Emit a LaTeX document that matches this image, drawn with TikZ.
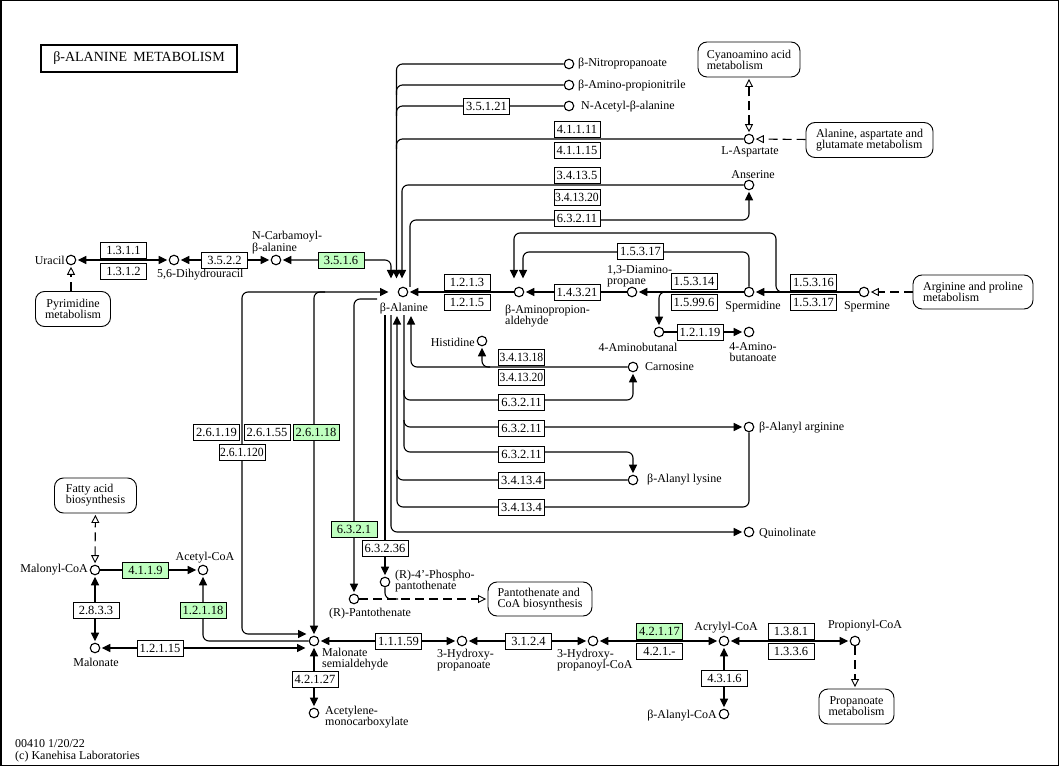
\documentclass[tikz,border=0pt]{standalone}
\usepackage{fontspec}
\setmainfont{Liberation Serif}
\usetikzlibrary{arrows.meta}
\definecolor{kgreen}{HTML}{BFFFBF}
\pgfdeclarelayer{bg}
\pgfsetlayers{bg,main}
\newcommand{\nrw}[1]{\scalebox{0.93}[1]{#1}}
\begin{document}
\begin{tikzpicture}[x=1pt,y=-1pt,
  cp/.style={circle,draw,line width=1.1pt,fill=white,inner sep=0pt,minimum size=9.5pt},
  ez/.style={draw,line width=0.9pt,fill=white,minimum width=46pt,minimum height=16pt,inner sep=0pt,font=\fontsize{12.5}{12.5}\selectfont},
  gz/.style={ez,fill=kgreen},
  lb/.style={inner sep=0pt,font=\fontsize{12}{11}\selectfont},
  mp/.style={draw,line width=0.9pt,rounded corners=9pt,fill=white,inner sep=0pt,align=left,font=\fontsize{12}{11}\selectfont},
  ln/.style={line width=1.1pt,rounded corners=6pt},
  ae/.style={ln,-{Triangle[length=8.5pt,width=8pt]},shorten >=1.5pt},
  ab/.style={ln,{Triangle[length=8.5pt,width=8pt]}-{Triangle[length=8.5pt,width=8pt]},shorten >=1.5pt,shorten <=1.5pt},
  dl/.style={line width=1.1pt,dash pattern=on 9pt off 5pt},
  de/.style={dl,-{Triangle[open,length=8pt,width=8pt,line width=0.9pt]},shorten >=1.5pt},
  db/.style={dl,{Triangle[open,length=8pt,width=8pt,line width=0.9pt]}-{Triangle[open,length=8pt,width=8pt,line width=0.9pt]},shorten >=1.5pt,shorten <=1.5pt},
]
\useasboundingbox (0,0) rectangle (1060,767);
\draw[line width=1.5pt] (0.75,0.75) rectangle (1058.5,765.5);

\node[draw,line width=2pt,minimum width=196pt,minimum height=27pt,inner sep=0pt,font=\fontsize{14}{14}\selectfont] (title) at (139,58.5) {β-ALANINE\hspace{6pt}METABOLISM};
\node[lb,anchor=west,align=left,font=\fontsize{12}{12}\selectfont] (foot) at (15,751) {00410 1/20/22\\(c) Kanehisa Laboratories};

% ---------- compounds ----------
\node[cp] (ura) at (71,260) {};
\node[cp] (dhu) at (174,260) {};
\node[cp] (ncb) at (276,260) {};
\node[cp] (bala) at (403,292) {};
\node[cp] (nitro) at (569,64) {};
\node[cp] (apn) at (569,85) {};
\node[cp] (nacb) at (569,106) {};
\node[cp] (asp) at (749,139) {};
\node[cp] (ans) at (749,185) {};
\node[cp] (bapa) at (519,292) {};
\node[cp] (dap) at (632,292) {};
\node[cp] (spd) at (749,292) {};
\node[cp] (spm) at (864,292) {};
\node[cp] (abal) at (659,332) {};
\node[cp] (abut) at (749,332) {};
\node[cp] (his) at (482,341) {};
\node[cp] (car) at (633,367) {};
\node[cp] (barg) at (749,427) {};
\node[cp] (blys) at (633,480) {};
\node[cp] (quin) at (749,532) {};
\node[cp] (pant) at (354,599) {};
\node[cp] (ppant) at (385,582) {};
\node[cp] (msa) at (314,641) {};
\node[cp] (malonate) at (95,648) {};
\node[cp] (malcoa) at (95,570) {};
\node[cp] (acoa) at (203,570) {};
\node[cp] (hpa) at (462,641) {};
\node[cp] (hpcoa) at (593,641) {};
\node[cp] (acr) at (724,641) {};
\node[cp] (pcoa) at (855,641) {};
\node[cp] (bacoa) at (724,714) {};
\node[cp] (acmc) at (314,713) {};

% ---------- compound labels ----------
\node[lb,anchor=east] (l1) at (65,260) {Uracil};
\node[lb,anchor=west] (l2) at (157,274.5) {5,6-Dihydrouracil};
\node[lb,anchor=west,align=left] (l3) at (252,243) {N-Carbamoyl-\\β-alanine};
\node[lb] (l4) at (404,308.5) {β-Alanine};
\node[lb,anchor=west] (l5) at (578,64) {β-Nitropropanoate};
\node[lb,anchor=west] (l6) at (578,86) {β-Amino-propionitrile};
\node[lb,anchor=west] (l7) at (581,107) {N-Acetyl-β-alanine};
\node[lb] (l8) at (750,152) {L-Aspartate};
\node[lb] (l9) at (753,175) {Anserine};
\node[lb,anchor=west,align=left] (l10) at (505,316) {β-Aminopropion-\\aldehyde};
\node[lb,anchor=west,align=left] (l11) at (607,276) {1,3-Diamino-\\propane};
\node[lb] (l12) at (753,307) {Spermidine};
\node[lb] (l13) at (867,307) {Spermine};
\node[lb] (l14) at (638,347) {4-Aminobutanal};
\node[lb,align=center] (l15) at (753,352) {4-Amino-\\butanoate};
\node[lb,anchor=east] (l16) at (475,342) {Histidine};
\node[lb,anchor=west] (l17) at (645,367) {Carnosine};
\node[lb,anchor=west] (l18) at (759,428) {β-Alanyl arginine};
\node[lb,anchor=west] (l19) at (647,480) {β-Alanyl lysine};
\node[lb,anchor=west] (l20) at (759,533) {Quinolinate};
\node[lb] (l21) at (370,614) {(R)-Pantothenate};
\node[lb,anchor=west,align=left] (l22) at (395,581) {(R)-4'-Phospho-\\pantothenate};
\node[lb,anchor=west,align=left] (l23) at (322,659) {Malonate\\semialdehyde};
\node[lb] (l24) at (96,662) {Malonate};
\node[lb,anchor=east] (l25) at (88,570) {Malonyl-CoA};
\node[lb] (l26) at (205,558) {Acetyl-CoA};
\node[lb,anchor=west,align=left] (l27) at (437,660) {3-Hydroxy-\\propanoate};
\node[lb,anchor=west,align=left] (l28) at (557,660) {3-Hydroxy-\\propanoyl-CoA};
\node[lb] (l29) at (726,628) {Acrylyl-CoA};
\node[lb] (l30) at (865,626) {Propionyl-CoA};
\node[lb,anchor=east] (l31) at (717,716) {β-Alanyl-CoA};
\node[lb,anchor=west,align=left] (l32) at (325,717) {Acetylene-\\monocarboxylate};

% ---------- maps ----------
\node[mp,minimum width=102pt,minimum height=35pt] (cyano) at (749,59.5) {Cyanoamino acid\\metabolism};
\node[mp,minimum width=127pt,minimum height=35pt] (alaasp) at (869.5,140) {Alanine, aspartate and\\glutamate metabolism};
\node[mp,minimum width=120pt,minimum height=34pt] (argpro) at (973,292) {Arginine and proline\\metabolism};
\node[mp,minimum width=75pt,minimum height=35pt,align=center] (pyr) at (73,309) {Pyrimidine\\metabolism};
\node[mp,minimum width=82pt,minimum height=35pt] (fab) at (95.5,495.5) {Fatty acid\\biosynthesis};
\node[mp,minimum width=104pt,minimum height=34pt] (pantoa) at (540,599) {Pantothenate and\\CoA biosynthesis};
\node[mp,minimum width=75pt,minimum height=35pt,align=center] (propm) at (856.5,706.5) {Propanoate\\metabolism};

% ---------- enzymes ----------
\node[ez] (e1) at (123.5,250) {1.3.1.1};
\node[ez] (e2) at (123.5,271) {1.3.1.2};
\node[ez] (e3) at (224.5,260) {3.5.2.2};
\node[gz] (e4) at (341,260) {3.5.1.6};
\node[ez] (e5) at (486.5,106) {3.5.1.21};
\node[ez] (e6) at (577,129) {4.1.1.11};
\node[ez] (e7) at (577,150) {4.1.1.15};
\node[ez] (e8) at (577,175.5) {3.4.13.5};
\node[ez] (e9) at (577,197) {\nrw{3.4.13.20}};
\node[ez] (e10) at (577,218.5) {6.3.2.11};
\node[ez] (e11) at (640.5,251) {1.5.3.17};
\node[ez] (e12) at (467,282) {1.2.1.3};
\node[ez] (e13) at (467,302) {1.2.1.5};
\node[ez] (e14) at (577,292) {1.4.3.21};
\node[ez] (e15) at (694,281) {1.5.3.14};
\node[ez] (e16) at (694,302) {1.5.99.6};
\node[ez] (e17) at (813.5,282.5) {1.5.3.16};
\node[ez] (e18) at (813.5,302.5) {1.5.3.17};
\node[ez] (e19) at (700,332) {1.2.1.19};
\node[ez] (e20) at (521.5,357) {\nrw{3.4.13.18}};
\node[ez] (e21) at (521.5,377) {\nrw{3.4.13.20}};
\node[ez] (e22) at (521.5,402) {6.3.2.11};
\node[ez] (e23) at (521.5,428) {6.3.2.11};
\node[ez] (e24) at (521.5,454) {6.3.2.11};
\node[ez] (e25) at (521.5,480) {3.4.13.4};
\node[ez] (e26) at (521.5,507) {3.4.13.4};
\node[ez] (e27) at (216.5,432) {2.6.1.19};
\node[ez] (e28) at (267,432) {2.6.1.55};
\node[gz] (e29) at (316,432) {2.6.1.18};
\node[ez] (e30) at (242,452) {\nrw{2.6.1.120}};
\node[gz] (e31) at (354,529) {6.3.2.1};
\node[ez] (e32) at (385,548.5) {6.3.2.36};
\node[gz] (e33) at (145.5,570) {4.1.1.9};
\node[ez] (e34) at (96,610) {2.8.3.3};
\node[gz] (e35) at (203,610) {1.2.1.18};
\node[ez] (e36) at (160,648) {1.2.1.15};
\node[ez] (e37) at (398.5,641.5) {1.1.1.59};
\node[ez] (e38) at (315,679.5) {4.2.1.27};
\node[ez] (e39) at (528.5,641.5) {3.1.2.4};
\node[gz] (e40) at (659.5,631) {4.2.1.17};
\node[ez] (e41) at (659.5,651.5) {4.2.1.-};
\node[ez] (e42) at (724.5,678) {4.3.1.6};
\node[ez] (e43) at (791,631) {1.3.8.1};
\node[ez] (e44) at (791,651.5) {1.3.3.6};

% ---------- connectors ----------
\begin{pgfonlayer}{bg}
\coordinate (t1) at (391,280);
\draw[ab] (ura) -- (dhu);
\draw[ab] (dhu) -- (ncb);
\draw[ab] (ncb) -- (391,260) -- (t1);
\draw[de] (pyr.north -| ura) -- (ura);
\draw[ae] (nitro) -- (396.5,64) -- (396.5,280);
\draw[ln] (apn) -- (396.5,85) -- (396.5,95);
\draw[ln] (nacb) -- (396.5,106) -- (396.5,116);
\draw[ln] (asp) -- (396.5,139) -- (396.5,149);
\draw[ae] (ans) -- (402,185) -- (402,280);
\draw[ae] (410,287) -- (410,220) -- (749,220) -- (ans);
\draw[db] (asp) -- (cyano.south -| asp);
\draw[de] (alaasp) -- (asp);
\draw[ae] (bapa) -- (bala);
\draw[ae] (dap) -- (bapa);
\draw[ae] (spd) -- (dap);
\draw[ae] (spm) -- (spd);
\draw[ae] (spm) -- (776,292) -- (776,233) -- (514,233) -- (514,280);
\draw[ae] (spd) -- (749,252) -- (523,252) -- (523,280);
\draw[ae] (spd) -- (659,292) -- (abal);
\draw[ae] (abal) -- (abut);
\draw[de] (argpro) -- (spm);
\draw[ae] (car) -- (411,367) -- (411,314.5);
\draw[ae] (490,367) -- (482,367) -- (his);
\draw[ae] (404,315) -- (404,400) -- (633,400) -- (car);
\draw[ae] (404,390) -- (404,427) -- (barg);
\draw[ae] (404,420) -- (404,452) -- (633,452) -- (blys);
\draw[ae] (blys) -- (397,480) -- (397,314.5);
\draw[ln] (barg) -- (749,507) -- (397,507) -- (397,470);
\draw[ae] (391,315) -- (391,532) -- (quin);
\draw[ae] (385,315) -- (385,560) -- (ppant);
\draw[ae] (377,299) -- (354,299) -- (pant);
\draw[ln] (ppant) -- (385,599) -- (398,599);
\draw[de] (pant) -- (pantoa);
\draw[ab] (308,634) -- (242,634) -- (242,292) -- (390,292);
\draw[ae] (325,292) -- (314,292) -- (msa);
\draw[ae] (msa) -- (203,641) -- (acoa);
\draw[ab] (malonate) -- (307,648);
\draw[ae] (malcoa) -- (acoa);
\draw[ab] (malonate) -- (malcoa);
\draw[db] (malcoa) -- (fab);
\draw[ab] (msa) -- (hpa);
\draw[ab] (hpa) -- (hpcoa);
\draw[ab] (hpcoa) -- (acr);
\draw[ab] (acr) -- (pcoa);
\draw[ab] (acr) -- (bacoa);
\draw[ab] (msa) -- (acmc);
\draw[de] (pcoa) -- (propm.north -| pcoa);
\end{pgfonlayer}
\end{tikzpicture}
\end{document}
